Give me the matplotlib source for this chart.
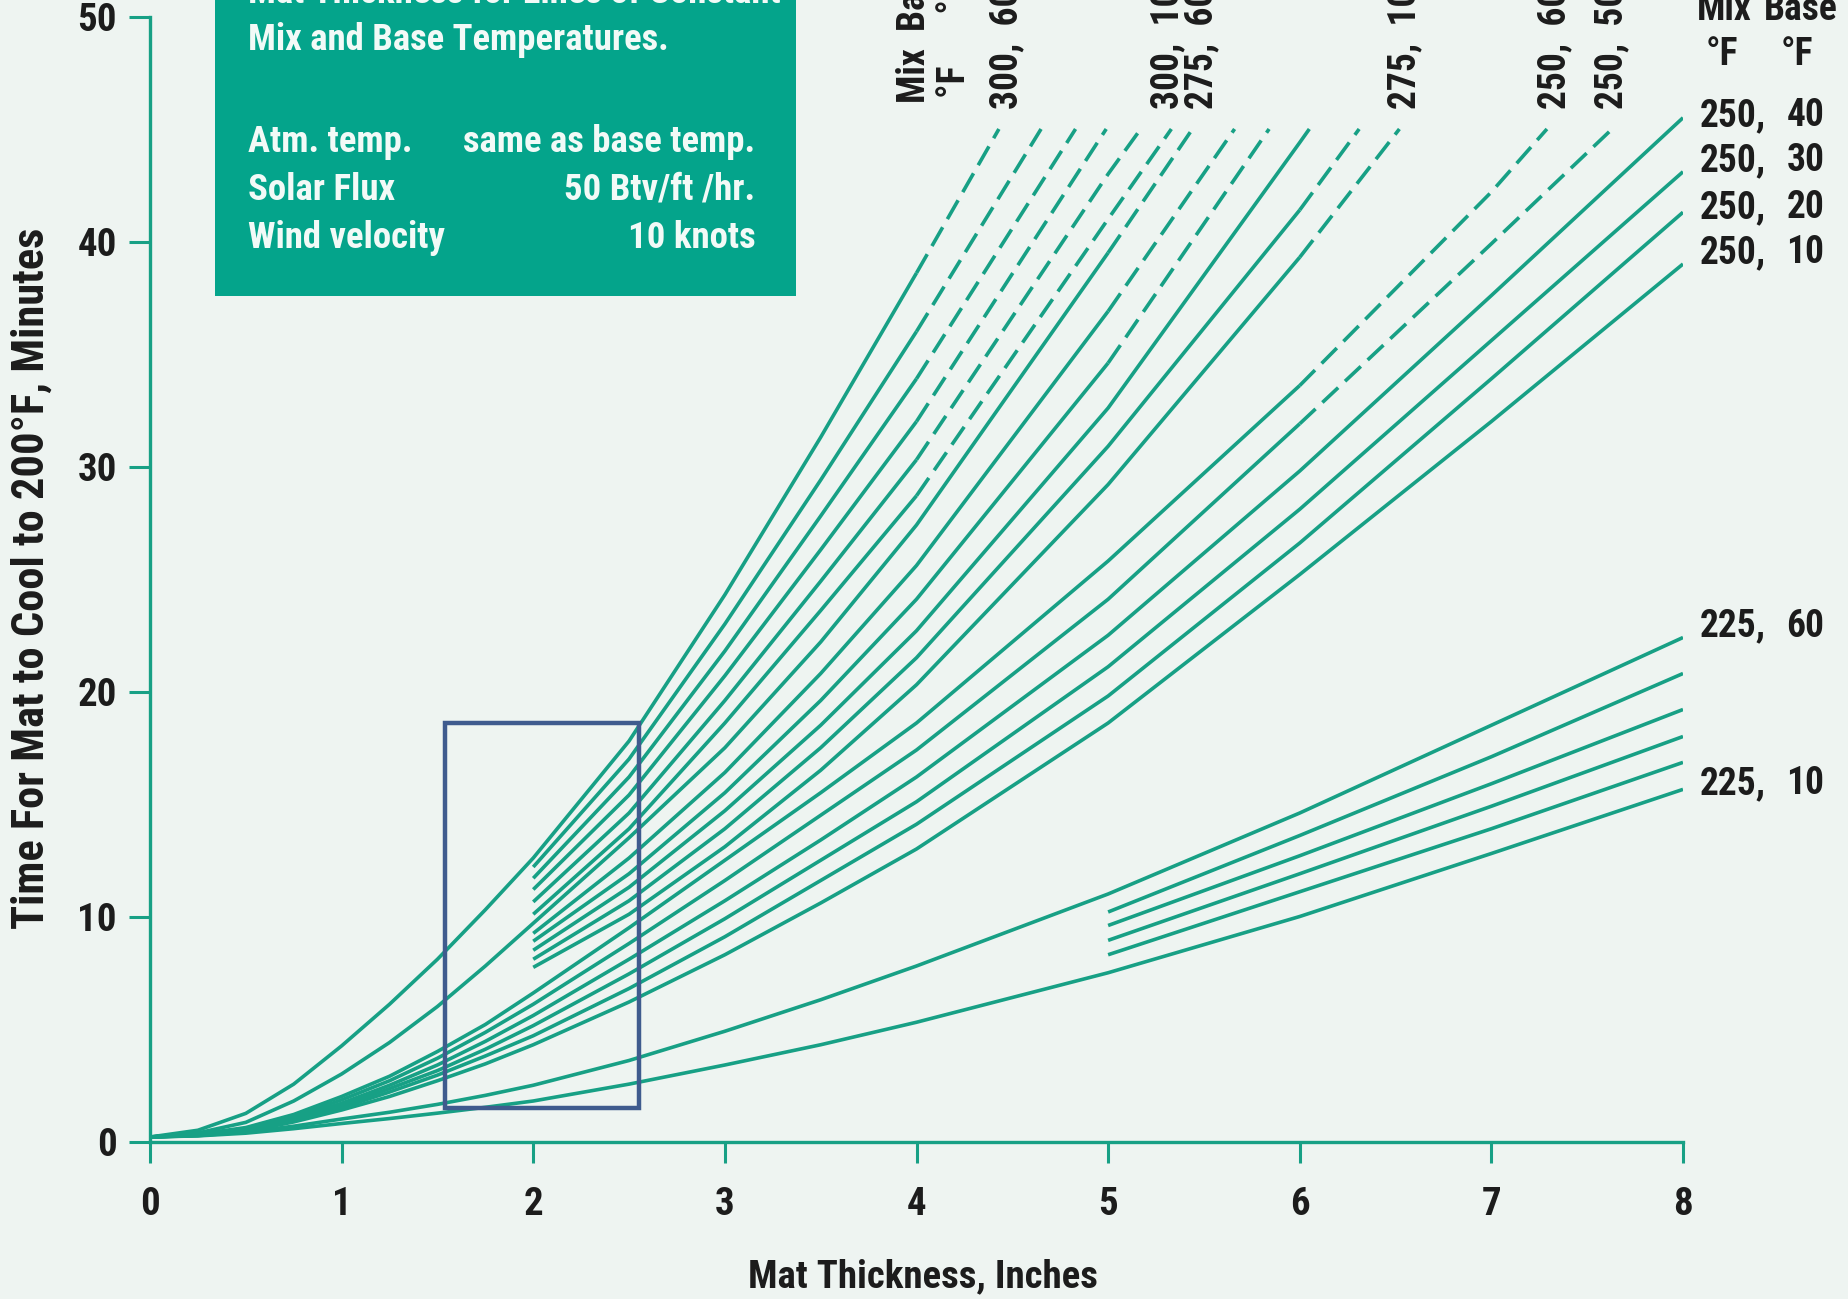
import numpy as np
import matplotlib
matplotlib.use("Agg")
import matplotlib.pyplot as plt
from matplotlib import font_manager
from matplotlib.patches import Rectangle


# look for a condensed bold face; the original uses a condensed grotesque
def find_condensed():
    prefer = ['Liberation Sans Narrow', 'Roboto Condensed', 'Open Sans Condensed',
              'Noto Sans', 'DejaVu Sans', 'Roboto', 'Open Sans', 'Inter']
    found = {}
    for f in font_manager.fontManager.ttflist:
        w = f.weight
        if isinstance(w, str):
            w = font_manager.weight_dict.get(w, 400)
        if f.stretch in ('condensed', 'semi-condensed', 'extra-condensed') and w >= 600:
            found.setdefault(f.name, f.stretch)
    for name in prefer:
        if name in found:
            return name, found[name]
    if found:
        name = sorted(found)[0]
        return name, found[name]
    return None, None


cond_name, cond_stretch = find_condensed()
if cond_name:
    plt.rcParams['font.family'] = [cond_name, 'DejaVu Sans']
    plt.rcParams['font.stretch'] = cond_stretch
    SCALE = 1.0
else:
    plt.rcParams['font.family'] = ['DejaVu Sans']
    SCALE = 0.78
plt.rcParams['font.weight'] = 'bold'

BG = '#eef4f1'
TEAL = '#17a085'
BOX = '#04a48b'
INK = '#1c1c1c'

# ---- data (minutes to cool to 200 F) ----
nan = np.nan
thickness = [0, 0.25, 0.5, 0.75, 1, 1.25, 1.5, 1.75, 2, 2.5, 3, 3.5, 4, 5, 6, 7, 8]
base_temps = [60, 50, 40, 30, 20, 10]
top_time = 45  # dashed lines stop at this time

mix300 = [
    [0.2, 0.5, 1.25, 2.55, 4.25, 6.1, 8.1, 10.3, 12.6, 17.8, 24.3, 31.3, 38.6, nan, nan, nan, nan],
    [nan, nan, nan, nan, nan, nan, nan, nan, 12.2, 17.0, 23.0, 29.4, 36.0, nan, nan, nan, nan],
    [nan, nan, nan, nan, nan, nan, nan, nan, 11.7, 16.2, 21.8, 27.8, 33.9, nan, nan, nan, nan],
    [nan, nan, nan, nan, nan, nan, nan, nan, 11.2, 15.4, 20.7, 26.3, 32.0, nan, nan, nan, nan],
    [nan, nan, nan, nan, nan, nan, nan, nan, 10.65, 14.6, 19.6, 24.9, 30.3, 43.0, nan, nan, nan],
    [nan, nan, nan, nan, nan, nan, nan, nan, 10.1, 13.9, 18.6, 23.6, 28.7, 41.0, nan, nan, nan],
]
mix300_top = [4.43, 4.65, 4.83, 4.99, 5.17, 5.33]
mix300_dash = [4, 4, 4, 4, 4, 4]

mix275 = [
    [0.2, 0.38, 0.85, 1.8, 3.0, 4.4, 6.0, 7.8, 9.7, 13.5, 17.5, 22.2, 27.4, 39.5, nan, nan, nan],
    [nan, nan, nan, nan, nan, nan, nan, nan, 9.25, 12.6, 16.4, 20.8, 25.6, 36.9, nan, nan, nan],
    [nan, nan, nan, nan, nan, nan, nan, nan, 8.9, 11.9, 15.5, 19.6, 24.1, 34.6, nan, nan, nan],
    [nan, nan, nan, nan, nan, nan, nan, nan, 8.5, 11.3, 14.7, 18.5, 22.7, 32.6, 44.4, nan, nan],
    [nan, nan, nan, nan, nan, nan, nan, nan, 8.1, 10.7, 13.9, 17.5, 21.5, 30.9, 41.4, nan, nan],
    [nan, nan, nan, nan, nan, nan, nan, nan, 7.74, 10.1, 13.1, 16.5, 20.3, 29.2, 39.3, nan, nan],
]
mix275_top = [5.44, 5.66, 5.84, 6.05, 6.31, 6.52]
mix275_dash = [5, 5, 5, None, 6, 6]

mix250 = [
    [0.2, 0.32, 0.62, 1.2, 2.0, 2.9, 4.0, 5.2, 6.6, 9.5, 12.5, 15.5, 18.6, 25.8, 33.6, 42.2, nan],
    [0.2, 0.31, 0.57, 1.1, 1.85, 2.7, 3.7, 4.85, 6.1, 8.8, 11.6, 14.5, 17.4, 24.1, 31.9, 39.9, nan],
    [0.2, 0.3, 0.53, 1.02, 1.7, 2.5, 3.4, 4.45, 5.6, 8.1, 10.7, 13.4, 16.2, 22.5, 29.8, 37.6, 45.5],
    [0.2, 0.29, 0.5, 0.97, 1.6, 2.35, 3.15, 4.1, 5.15, 7.45, 9.9, 12.5, 15.1, 21.1, 28.1, 35.6, 43.1],
    [0.2, 0.28, 0.47, 0.92, 1.5, 2.2, 2.95, 3.8, 4.7, 6.8, 9.1, 11.6, 14.1, 19.8, 26.6, 33.9, 41.3],
    [0.2, 0.27, 0.44, 0.87, 1.4, 2.0, 2.7, 3.45, 4.3, 6.2, 8.3, 10.6, 13.0, 18.6, 25.2, 32.0, 39.0],
]
mix250_top = [7.29, 7.63, None, None, None, None]
mix250_dash = [6, 6, None, None, None, None]

mix225 = [
    [0.2, 0.26, 0.42, 0.68, 1.0, 1.3, 1.65, 2.05, 2.5, 3.6, 4.9, 6.3, 7.8, 11.0, 14.6, 18.5, 22.4],
    [nan, nan, nan, nan, nan, nan, nan, nan, nan, nan, nan, nan, nan, 10.2, 13.6, 17.1, 20.8],
    [nan, nan, nan, nan, nan, nan, nan, nan, nan, nan, nan, nan, nan, 9.6, 12.7, 15.9, 19.2],
    [nan, nan, nan, nan, nan, nan, nan, nan, nan, nan, nan, nan, nan, 8.94, 11.9, 14.9, 18.0],
    [nan, nan, nan, nan, nan, nan, nan, nan, nan, nan, nan, nan, nan, 8.3, 11.1, 13.9, 16.85],
    [0.2, 0.25, 0.37, 0.57, 0.8, 1.02, 1.26, 1.52, 1.8, 2.55, 3.4, 4.3, 5.3, 7.5, 10.0, 12.8, 15.65],
]
mix225_top = [None] * 6
mix225_dash = [None] * 6

# labels at the top of the plot (rotated) and at the right end
top_labels = ['300,  60', '300,  10', '275,  60', '275,  10', '250,  60', '250,  50']
top_label_x = [4.47, 5.31, 5.49, 6.55, 7.33, 7.63]
right_mix = ['250,', '250,', '250,', '250,', '225,', '225,']
right_base = ['40', '30', '20', '10', '60', '10']
right_y = [45.6, 43.6, 41.5, 39.5, 22.9, 15.9]

# ---- figure ----
fig = plt.figure(figsize=(18.49, 12.99), dpi=100)
fig.patch.set_facecolor(BG)
ax = fig.add_axes([150 / 1849, 157.5 / 1299, 1533 / 1849, 1125 / 1299])
ax.set_facecolor(BG)
ax.set_xlim(0, 8)
ax.set_ylim(0, 50)

for s in ['top', 'right']:
    ax.spines[s].set_visible(False)
for s in ['left', 'bottom']:
    ax.spines[s].set_color(TEAL)
    ax.spines[s].set_linewidth(2.4)

ax.set_xticks(range(0, 9))
ax.set_yticks(range(0, 51, 10))
ax.tick_params(axis='both', direction='out', length=15, width=2.2, color=TEAL,
               labelsize=28 * SCALE, labelcolor=INK)
ax.tick_params(axis='y', pad=9)
ax.tick_params(axis='x', pad=17)
for lab in ax.get_xticklabels() + ax.get_yticklabels():
    lab.set_fontweight('bold')

# ---- curves ----
x_arr = np.array(thickness)


def draw_family(rows, tops, dashes):
    for ys, top, dash in zip(rows, tops, dashes):
        ys = np.array(ys, dtype=float)
        keep = ~np.isnan(ys)
        px = list(x_arr[keep])
        py = list(ys[keep])
        if top is not None:
            px.append(top)
            py.append(top_time)
        px = np.array(px)
        py = np.array(py)
        if dash is None:
            ax.plot(px, py, color=TEAL, lw=2.6, solid_capstyle='butt')
        else:
            a = px <= dash
            b = px >= dash
            ax.plot(px[a], py[a], color=TEAL, lw=2.6, solid_capstyle='butt')
            ax.plot(px[b], py[b], color=TEAL, lw=2.6, linestyle=(0, (6, 2.6)),
                    dash_capstyle='butt')


draw_family(mix300, mix300_top, mix300_dash)
draw_family(mix275, mix275_top, mix275_dash)
draw_family(mix250, mix250_top, mix250_dash)
draw_family(mix225, mix225_top, mix225_dash)

# highlight frame drawn over the chart
ax.add_patch(Rectangle((1.54, 1.5), 1.01, 17.1, fill=False, edgecolor='#3f5b8e',
                       lw=3.2, zorder=5))

# ---- info box ----
ax.add_patch(Rectangle((0.34, 37.6), 3.03, 16, facecolor=BOX, edgecolor='none',
                       clip_on=False, zorder=4))
box_kw = dict(color='#f2faf7', fontsize=26.5 * SCALE, fontweight='bold', zorder=6,
              clip_on=False)
ax.text(0.51, 50.6, 'Mat Thickness for Lines of Constant', va='baseline', **box_kw)
ax.text(0.51, 48.5, 'Mix and Base Temperatures.', va='baseline', **box_kw)
info_left = ['Atm. temp.', 'Solar Flux', 'Wind velocity']
info_right = ['same as base temp.', '50 Btv/ft /hr.', '10 knots']
info_y = [44.0, 41.85, 39.7]
for l, r, y in zip(info_left, info_right, info_y):
    ax.text(0.51, y, l, ha='left', va='baseline', **box_kw)
    ax.text(3.16, y, r, ha='right', va='baseline', **box_kw)

# ---- line labels ----
lab_kw = dict(color=INK, fontsize=27 * SCALE, fontweight='bold', clip_on=False)
ax.text(3.99, 46.15, 'Mix  Base', rotation=90, rotation_mode='anchor',
        ha='left', va='center', **lab_kw)
ax.text(4.20, 46.4, '\u00b0F      \u00b0F', rotation=90, rotation_mode='anchor',
        ha='left', va='center', **lab_kw)
for t, x in zip(top_labels, top_label_x):
    ax.text(x, 45.9, t, rotation=90, rotation_mode='anchor', ha='left', va='center',
            **lab_kw)

ax.text(8.07, 50.3, 'Mix', ha='left', va='center', **lab_kw)
ax.text(8.42, 50.3, 'Base', ha='left', va='center', **lab_kw)
ax.text(8.12, 48.3, '\u00b0F', ha='left', va='center', **lab_kw)
ax.text(8.51, 48.3, '\u00b0F', ha='left', va='center', **lab_kw)
for m, b, y in zip(right_mix, right_base, right_y):
    ax.text(8.09, y, m, ha='left', va='center', **lab_kw)
    ax.text(8.54, y, b, ha='left', va='center', **lab_kw)

# ---- axis titles ----
fig.text(32 / 1849, 1 - 578 / 1299, 'Time For Mat to Cool to 200\u00b0F, Minutes',
         rotation=90, ha='center', va='center', fontsize=32 * SCALE,
         fontweight='bold', color=INK)
fig.text(923 / 1849, 1 - 1277 / 1299, 'Mat Thickness, Inches', ha='center',
         va='center', fontsize=28 * SCALE, fontweight='bold', color=INK)

fig.savefig('out.png', dpi=100, facecolor=BG)
